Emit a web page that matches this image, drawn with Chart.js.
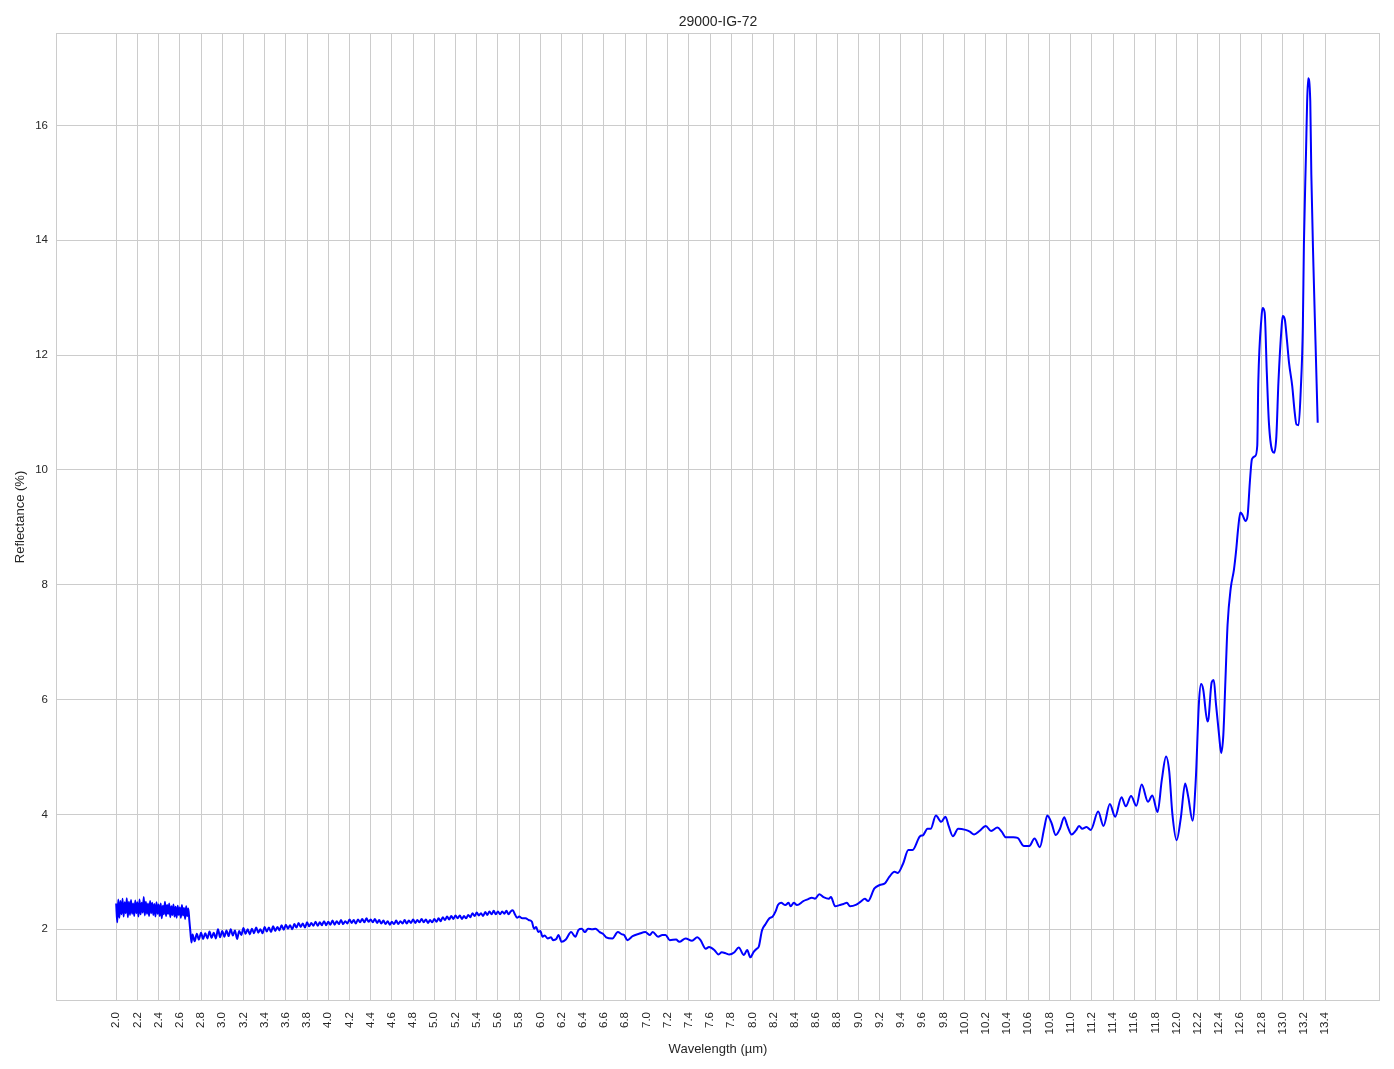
<!DOCTYPE html>
<html>
<head>
<meta charset="utf-8">
<title>29000-IG-72</title>
<script src="https://cdn.jsdelivr.net/npm/chart.js@4.4.1/dist/chart.umd.min.js"></script>
<style>
    body { margin: 0; background: #fff; }
    canvas { display: block; }
</style>
</head>
<body>
<canvas id="spectrumChart" width="1394" height="1069"></canvas>
<script>
// Spectrum readings, noisy part first (2.00 - 2.70 um)
const wavelengthNoisy = [
    2.00, 2.01, 2.02, 2.03, 2.04, 2.05, 2.06, 2.07, 2.08, 2.09,
    2.10, 2.11, 2.12, 2.13, 2.14, 2.15, 2.16, 2.17, 2.18, 2.19,
    2.20, 2.21, 2.22, 2.23, 2.24, 2.25, 2.26, 2.27, 2.28, 2.29,
    2.30, 2.31, 2.32, 2.33, 2.34, 2.35, 2.36, 2.37, 2.38, 2.39,
    2.40, 2.41, 2.42, 2.43, 2.44, 2.45, 2.46, 2.47, 2.48, 2.49,
    2.50, 2.51, 2.52, 2.53, 2.54, 2.55, 2.56, 2.57, 2.58, 2.59,
    2.60, 2.61, 2.62, 2.63, 2.64, 2.65, 2.66, 2.67, 2.68, 2.69,
    2.70, 2.71
];
const reflectanceNoisy = [
    2.45, 2.12, 2.52, 2.20, 2.49, 2.26, 2.53, 2.22, 2.47, 2.28,
    2.54, 2.21, 2.48, 2.25, 2.51, 2.27, 2.45, 2.23, 2.50, 2.28,
    2.47, 2.22, 2.52, 2.26, 2.46, 2.29, 2.56, 2.24, 2.48, 2.27,
    2.45, 2.23, 2.49, 2.28, 2.46, 2.25, 2.44, 2.22, 2.47, 2.27,
    2.43, 2.23, 2.45, 2.19, 2.41, 2.26, 2.48, 2.23, 2.42, 2.27,
    2.45, 2.21, 2.40, 2.25, 2.43, 2.22, 2.39, 2.20, 2.41, 2.25,
    2.38, 2.20, 2.42, 2.24, 2.37, 2.18, 2.40, 2.23, 2.36, 2.15,
    1.95, 1.77
];

// 2.72 - 5.78 um, small noise on a slow rise
const wavelengthMid = [
    2.72, 2.74, 2.76, 2.78, 2.80, 2.82, 2.84, 2.86, 2.88, 2.90,
    2.92, 2.94, 2.96, 2.98, 3.00, 3.02, 3.04, 3.06, 3.08, 3.10,
    3.12, 3.14, 3.16, 3.18, 3.20, 3.22, 3.24, 3.26, 3.28, 3.30,
    3.32, 3.34, 3.36, 3.38, 3.40, 3.42, 3.44, 3.46, 3.48, 3.50,
    3.52, 3.54, 3.56, 3.58, 3.60, 3.62, 3.64, 3.66, 3.68, 3.70,
    3.72, 3.74, 3.76, 3.78, 3.80, 3.82, 3.84, 3.86, 3.88, 3.90,
    3.92, 3.94, 3.96, 3.98, 4.00, 4.02, 4.04, 4.06, 4.08, 4.10,
    4.12, 4.14, 4.16, 4.18, 4.20, 4.22, 4.24, 4.26, 4.28, 4.30,
    4.32, 4.34, 4.36, 4.38, 4.40, 4.42, 4.44, 4.46, 4.48, 4.50,
    4.52, 4.54, 4.56, 4.58, 4.60, 4.62, 4.64, 4.66, 4.68, 4.70,
    4.72, 4.74, 4.76, 4.78, 4.80, 4.82, 4.84, 4.86, 4.88, 4.90,
    4.92, 4.94, 4.96, 4.98, 5.00, 5.02, 5.04, 5.06, 5.08, 5.10,
    5.12, 5.14, 5.16, 5.18, 5.20, 5.22, 5.24, 5.26, 5.28, 5.30,
    5.32, 5.34, 5.36, 5.38, 5.40, 5.42, 5.44, 5.46, 5.48, 5.50,
    5.52, 5.54, 5.56, 5.58, 5.60, 5.62, 5.64, 5.66, 5.68, 5.70,
    5.72, 5.74, 5.76, 5.78
];
const reflectanceMid = [
    1.91, 1.79, 1.92, 1.82, 1.94, 1.83, 1.93, 1.84, 1.96, 1.85,
    1.94, 1.84, 2.00, 1.86, 1.97, 1.87, 1.98, 1.88, 2.00, 1.89,
    1.98, 1.83, 1.97, 1.90, 2.02, 1.92, 2.00, 1.91, 2.01, 1.93,
    2.03, 1.94, 2.00, 1.93, 2.04, 1.96, 2.03, 1.95, 2.05, 1.97,
    2.04, 1.98, 2.07, 1.99, 2.08, 2.01, 2.07, 2.00, 2.09, 2.03,
    2.11, 2.04, 2.10, 2.03, 2.12, 2.05, 2.11, 2.06, 2.13, 2.06,
    2.12, 2.07, 2.14, 2.07, 2.13, 2.08, 2.15, 2.08, 2.14, 2.09,
    2.16, 2.09, 2.14, 2.10, 2.17, 2.11, 2.16, 2.10, 2.17, 2.12,
    2.18, 2.12, 2.19, 2.13, 2.17, 2.12, 2.18, 2.11, 2.16, 2.10,
    2.15, 2.09, 2.14, 2.08, 2.13, 2.09, 2.15, 2.09, 2.14, 2.10,
    2.16, 2.10, 2.15, 2.11, 2.17, 2.11, 2.16, 2.12, 2.18, 2.12,
    2.17, 2.11, 2.16, 2.12, 2.18, 2.13, 2.19, 2.14, 2.21, 2.16,
    2.22, 2.17, 2.23, 2.18, 2.24, 2.19, 2.24, 2.18, 2.23, 2.19,
    2.25, 2.21, 2.28, 2.23, 2.29, 2.24, 2.28, 2.23, 2.30, 2.25,
    2.31, 2.26, 2.32, 2.26, 2.31, 2.26, 2.31, 2.27, 2.32, 2.26,
    2.31, 2.33, 2.26, 2.20
];

// 5.80 - 13.33 um, smoother part with the big peaks
const wavelengthLong = [
    5.80, 5.83, 5.86, 5.89, 5.92, 5.94, 5.96, 5.98, 6.00, 6.02,
    6.04, 6.07, 6.10, 6.12, 6.15, 6.17, 6.20, 6.24, 6.29, 6.33,
    6.36, 6.39, 6.42, 6.45, 6.49, 6.52, 6.56, 6.59, 6.62, 6.68,
    6.73, 6.77, 6.79, 6.82, 6.87, 6.93, 6.99, 7.03, 7.06, 7.11,
    7.15, 7.18, 7.22, 7.28, 7.31, 7.37, 7.43, 7.48, 7.51, 7.56,
    7.59, 7.64, 7.68, 7.71, 7.75, 7.78, 7.83, 7.87, 7.92, 7.95,
    7.98, 8.01, 8.04, 8.06, 8.09, 8.12, 8.16, 8.19, 8.22, 8.24,
    8.27, 8.31, 8.34, 8.36, 8.39, 8.42, 8.48, 8.52, 8.56, 8.59,
    8.63, 8.67, 8.72, 8.74, 8.78, 8.82, 8.86, 8.89, 8.92, 8.98,
    9.02, 9.06, 9.09, 9.15, 9.20, 9.25, 9.29, 9.34, 9.37, 9.42,
    9.47, 9.51, 9.58, 9.61, 9.65, 9.68, 9.73, 9.78, 9.82, 9.85,
    9.89, 9.94, 10.01, 10.05, 10.09, 10.14, 10.20, 10.25, 10.31, 10.35,
    10.39, 10.46, 10.50, 10.56, 10.61, 10.66, 10.71, 10.75, 10.78, 10.82,
    10.86, 10.90, 10.94, 10.97, 11.01, 11.05, 11.08, 11.11, 11.15, 11.19,
    11.26, 11.31, 11.37, 11.42, 11.48, 11.52, 11.57, 11.62, 11.67, 11.73,
    11.77, 11.82, 11.86, 11.90, 11.93, 11.96, 12.00, 12.04, 12.08, 12.11,
    12.15, 12.18, 12.21, 12.23, 12.25, 12.29, 12.30, 12.33, 12.35, 12.37,
    12.40, 12.42, 12.44, 12.46, 12.48, 12.51, 12.54, 12.56, 12.58, 12.60,
    12.62, 12.65, 12.67, 12.69, 12.71, 12.74, 12.76, 12.77, 12.80, 12.81,
    12.83, 12.85, 12.87, 12.90, 12.92, 12.94, 12.96, 12.99, 13.00, 13.02,
    13.04, 13.06, 13.09, 13.11, 13.13, 13.15, 13.17, 13.19, 13.20, 13.22,
    13.23, 13.24, 13.26, 13.27, 13.29, 13.31, 13.33
];
const reflectanceLong = [
    2.22, 2.19, 2.19, 2.16, 2.13, 2.01, 2.04, 1.95, 1.97, 1.87,
    1.89, 1.84, 1.86, 1.81, 1.83, 1.90, 1.78, 1.82, 1.95, 1.87,
    1.99, 2.01, 1.95, 2.01, 2.00, 2.01, 1.95, 1.92, 1.86, 1.84,
    1.95, 1.91, 1.90, 1.81, 1.88, 1.92, 1.95, 1.90, 1.95, 1.87,
    1.90, 1.90, 1.81, 1.82, 1.78, 1.84, 1.80, 1.86, 1.81, 1.66,
    1.69, 1.64, 1.56, 1.60, 1.58, 1.56, 1.60, 1.68, 1.55, 1.64,
    1.51, 1.60, 1.66, 1.70, 1.98, 2.08, 2.19, 2.22, 2.32, 2.42,
    2.46, 2.42, 2.46, 2.40, 2.46, 2.42, 2.49, 2.52, 2.55, 2.53,
    2.61, 2.56, 2.53, 2.56, 2.40, 2.42, 2.44, 2.46, 2.40, 2.43,
    2.48, 2.53, 2.49, 2.71, 2.77, 2.80, 2.91, 3.00, 2.98, 3.14,
    3.38, 3.38, 3.62, 3.64, 3.75, 3.75, 3.98, 3.87, 3.96, 3.80,
    3.62, 3.75, 3.73, 3.70, 3.65, 3.71, 3.80, 3.71, 3.77, 3.70,
    3.60, 3.60, 3.59, 3.45, 3.45, 3.58, 3.43, 3.75, 3.98, 3.85,
    3.64, 3.75, 3.95, 3.80, 3.65, 3.72, 3.80, 3.75, 3.78, 3.73,
    4.05, 3.80, 4.18, 3.96, 4.30, 4.14, 4.32, 4.15, 4.52, 4.22,
    4.33, 4.04, 4.60, 5.01, 4.75, 4.00, 3.55, 3.95, 4.54, 4.30,
    3.89, 4.59, 5.94, 6.27, 6.18, 5.62, 5.66, 6.30, 6.34, 5.94,
    5.38, 5.07, 5.38, 6.34, 7.30, 7.94, 8.26, 8.58, 8.98, 9.26,
    9.22, 9.11, 9.22, 9.78, 10.19, 10.24, 10.42, 11.54, 12.66, 12.82,
    12.74, 11.70, 10.82, 10.34, 10.30, 10.58, 11.54, 12.50, 12.68, 12.62,
    12.26, 11.86, 11.46, 11.06, 10.79, 10.78, 11.38, 12.50, 13.94, 15.54,
    16.38, 16.82, 16.42, 15.14, 13.54, 12.18, 10.82
];

// Tick labels
const xTicks = [2.0, 2.2, 2.4, 2.6, 2.8, 3.0, 3.2, 3.4, 3.6, 3.8, 4.0, 4.2, 4.4, 4.6, 4.8,
    5.0, 5.2, 5.4, 5.6, 5.8, 6.0, 6.2, 6.4, 6.6, 6.8, 7.0, 7.2, 7.4, 7.6, 7.8, 8.0, 8.2,
    8.4, 8.6, 8.8, 9.0, 9.2, 9.4, 9.6, 9.8, 10.0, 10.2, 10.4, 10.6, 10.8, 11.0, 11.2,
    11.4, 11.6, 11.8, 12.0, 12.2, 12.4, 12.6, 12.8, 13.0, 13.2, 13.4];
const yTicks = [2, 4, 6, 8, 10, 12, 14, 16];

const wavelengths = wavelengthNoisy.concat(wavelengthMid, wavelengthLong);
const reflectance = reflectanceNoisy.concat(reflectanceMid, reflectanceLong);
const points = wavelengths.map(function(w, i) {
    return { x: w, y: reflectance[i] };
});

const gridColor = '#cccccc';
const textColor = '#262626';
const fontFamily = '"Liberation Sans", Arial, sans-serif';

// matplotlib draws all four spines, chart.js only draws two
const frameBox = {
    id: 'frameBox',
    afterDatasetsDraw(chart) {
        const a = chart.chartArea;
        const ctx = chart.ctx;
        ctx.save();
        ctx.strokeStyle = gridColor;
        ctx.lineWidth = 1;
        ctx.strokeRect(a.left + 0.5, a.top + 0.5, a.right - a.left - 1, a.bottom - a.top - 1);
        ctx.restore();
    }
};

const ctx = document.getElementById('spectrumChart').getContext('2d');
const spectrumChart = new Chart(ctx, {
    type: 'line',
    data: {
        datasets: [{
            label: 'Reflectance',
            data: points,
            borderColor: '#0000ff',
            borderWidth: 2,
            pointRadius: 0,
            fill: false,
            cubicInterpolationMode: 'monotone'
        }]
    },
    options: {
        responsive: false,
        animation: false,
        devicePixelRatio: 1,
        layout: {
            padding: { left: 0, right: 14, top: 0, bottom: 0 }
        },
        plugins: {
            legend: { display: false },
            tooltip: { enabled: false },
            title: {
                display: true,
                text: '29000-IG-72',
                color: textColor,
                fullSize: false,
                font: { family: fontFamily, size: 14, weight: 'normal' },
                padding: { top: 14, bottom: 2.2 }
            }
        },
        scales: {
            x: {
                type: 'linear',
                min: 1.4325,
                max: 13.9175,
                afterBuildTicks: function(scale) {
                    scale.ticks = xTicks.map(function(v) { return { value: v }; });
                },
                afterFit: function(scale) {
                    scale.height = 68;
                },
                grid: { color: gridColor, lineWidth: 1, drawTicks: false },
                border: { display: false },
                ticks: {
                    autoSkip: false,
                    minRotation: 90,
                    maxRotation: 90,
                    padding: 11,
                    color: textColor,
                    font: { family: fontFamily, size: 11.5 },
                    callback: function(value) { return Number(value).toFixed(1); }
                },
                title: {
                    display: true,
                    text: 'Wavelength (µm)',
                    color: textColor,
                    font: { family: fontFamily, size: 13 },
                    padding: { top: 4, bottom: 12 }
                }
            },
            y: {
                type: 'linear',
                min: 0.75,
                max: 17.61,
                afterBuildTicks: function(scale) {
                    scale.ticks = yTicks.map(function(v) { return { value: v }; });
                },
                afterFit: function(scale) {
                    scale.width = 56;
                },
                grid: { color: gridColor, lineWidth: 1, drawTicks: false },
                border: { display: false },
                ticks: {
                    padding: 8,
                    color: textColor,
                    font: { family: fontFamily, size: 11.5 },
                    callback: function(value) { return String(value); }
                },
                title: {
                    display: true,
                    text: 'Reflectance (%)',
                    color: textColor,
                    font: { family: fontFamily, size: 13 },
                    padding: { top: 13, bottom: 4 }
                }
            }
        }
    },
    plugins: [frameBox]
});
</script>
</body>
</html>
